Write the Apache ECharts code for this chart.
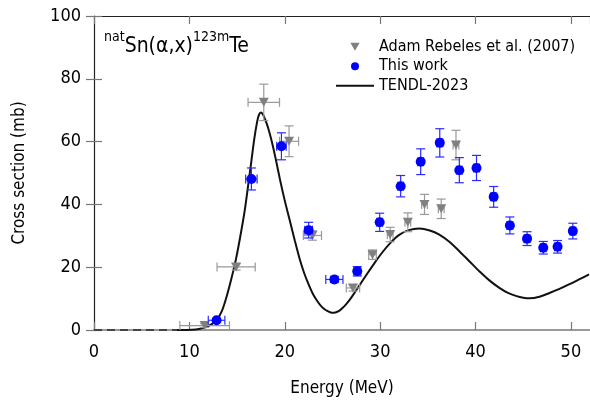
<!DOCTYPE html>
<html>
<head>
<meta charset="utf-8">
<script src="https://cdn.jsdelivr.net/npm/echarts@6/dist/echarts.min.js"></script>
<style>
html,body{margin:0;padding:0;background:#fff;}
#chart{width:590px;height:405px;}
</style>
</head>
<body>
<div id="chart"></div>
<script>
// ---- data ----
const xTicks = [0, 10, 20, 30, 40, 50];
const yTicks = [0, 20, 40, 60, 80, 100];

// Adam Rebeles et al. (2007)
const refE  = [11.6, 14.9, 17.8, 20.45, 22.9, 27.15, 29.2, 31.05, 32.9, 34.65, 36.4, 37.95];
const refY  = [1.4, 20.1, 72.5, 60.1, 30.1, 13.4, 24.0, 30.4, 34.3, 40.0, 38.6, 58.9];
const refDE = [2.6, 2.0, 1.65, 1.0, 0.95, 0.7, 0.4, 0.3, 0.3, 0.3, 0.3, 0.3];
const refDY = [0.6, 1.0, 5.8, 4.9, 1.5, 1.0, 1.5, 2.3, 3.0, 3.2, 3.1, 4.7];

// This work
const thisE  = [12.85, 16.5, 19.65, 22.5, 25.2, 27.6, 29.95, 32.15, 34.25, 36.25, 38.3, 40.1, 41.9, 43.6, 45.4, 47.1, 48.6, 50.2];
const thisY  = [3.1, 48.1, 58.5, 31.8, 16.1, 18.7, 34.3, 45.8, 53.6, 59.6, 50.9, 51.6, 42.4, 33.3, 29.1, 26.2, 26.5, 31.5];
const thisDE = [0.87, 0.6, 0.5, 0.4, 0.9, 0.35, 0.3, 0.3, 0.3, 0.3, 0.3, 0.3, 0.3, 0.3, 0.3, 0.3, 0.3, 0.3];
const thisDY = [0.6, 3.5, 4.3, 2.5, 1.0, 1.5, 2.9, 3.4, 4.1, 4.5, 4.0, 4.0, 3.3, 2.7, 2.2, 2.0, 2.0, 2.5];

// TENDL-2023
const tendlZeroE = [0, 8.7];
const tendlZeroY = [0, 0];
const tendlE = [8.7, 9.5, 10.3, 11.0, 11.7, 12.3, 12.85, 13.4, 13.9, 14.4, 14.9, 15.35, 15.8, 16.15, 16.5, 16.8, 17.1, 17.3, 17.5, 17.7, 17.95, 18.25, 18.6, 19.05, 19.5, 20.0, 20.5, 21.05, 21.6, 22.05, 22.5, 22.9, 23.3, 23.7, 24.1, 24.5, 24.9, 25.3, 25.7, 26.05, 26.4, 26.8, 27.15, 27.85, 28.55, 29.4, 30.3, 31.15, 32.0, 33.0, 34.1, 35.2, 36.2, 37.25, 38.3, 39.35, 40.4, 41.45, 42.5, 43.4, 44.3, 45.0, 45.65, 46.7, 47.75, 48.8, 49.8, 50.85, 51.9];
const tendlY = [0, 0.03, 0.1, 0.35, 0.9, 1.8, 3.1, 6.0, 10.6, 16.3, 22.8, 30.0, 38.0, 45.8, 53.8, 60.8, 66.3, 68.6, 69.3, 68.7, 67.0, 64.4, 60.5, 54.5, 47.9, 41.2, 35.2, 28.5, 22.2, 18.0, 14.5, 11.8, 9.7, 8.0, 6.8, 6.0, 5.5, 5.6, 6.1, 7.0, 8.1, 9.6, 11.1, 14.3, 17.5, 21.3, 25.0, 28.0, 30.3, 31.8, 32.3, 31.7, 30.4, 28.1, 25.1, 21.9, 18.7, 15.8, 13.4, 11.8, 10.8, 10.3, 10.1, 10.6, 11.8, 13.1, 14.5, 16.1, 17.7];

// ---- build ----
const FONT = '"DejaVu Sans Condensed", "DejaVu Sans", sans-serif';
const zip2 = (a, b) => a.map((v, i) => [v, b[i]]);
const zip4 = (a, b, c, d) => a.map((v, i) => [v, b[i], c[i], d[i]]);

function errRender(color) {
  return function (params, api) {
    const x = api.value(0), y = api.value(1), dx = api.value(2), dy = api.value(3);
    const c = api.coord([x, y]);
    const l = api.coord([x - dx, y]);
    const r = api.coord([x + dx, y]);
    const t = api.coord([x, y + dy]);
    const b = api.coord([x, y - dy]);
    const cap = 4.5;
    const st = { stroke: color, lineWidth: 1.2 };
    const kids = [
      { type: 'line', shape: { x1: l[0], y1: c[1], x2: r[0], y2: c[1] }, style: st },
      { type: 'line', shape: { x1: l[0], y1: c[1] - cap, x2: l[0], y2: c[1] + cap }, style: st },
      { type: 'line', shape: { x1: r[0], y1: c[1] - cap, x2: r[0], y2: c[1] + cap }, style: st },
      { type: 'line', shape: { x1: c[0], y1: t[1], x2: c[0], y2: b[1] }, style: st },
      { type: 'line', shape: { x1: c[0] - cap, y1: t[1], x2: c[0] + cap, y2: t[1] }, style: st },
      { type: 'line', shape: { x1: c[0] - cap, y1: b[1], x2: c[0] + cap, y2: b[1] }, style: st }
    ];
    return { type: 'group', children: kids };
  };
}

const chart = echarts.init(document.getElementById('chart'), null, { renderer: 'canvas' });
const axisTickStyle = { show: true, inside: true, length: 8, lineStyle: { color: '#777', width: 1.2 } };

const option = {
  animation: false,
  backgroundColor: '#fff',
  textStyle: { fontFamily: FONT },
  grid: { left: 94, top: 16, width: 497, height: 314, containLabel: false },
  xAxis: [
    {
      type: 'value', min: 0, max: 52, interval: 10, position: 'bottom',
      axisLine: { show: true, onZero: false, lineStyle: { color: '#999', width: 2 } },
      axisTick: axisTickStyle,
      splitLine: { show: false },
      axisLabel: { show: true, margin: 13, color: '#000', fontSize: 18, fontFamily: FONT, showMaxLabel: false,
        formatter: v => (xTicks.indexOf(v) >= 0 ? String(v) : '') },
      name: 'Energy (MeV)', nameLocation: 'middle', nameGap: 50,
      nameTextStyle: { color: '#000', fontSize: 17, fontFamily: FONT }
    },
    {
      type: 'value', min: 0, max: 52, interval: 10, position: 'top',
      axisLine: { show: true, onZero: false, lineStyle: { color: '#222', width: 1.2 } },
      axisTick: axisTickStyle, axisLabel: { show: false }, splitLine: { show: false }
    }
  ],
  yAxis: [
    {
      type: 'value', min: 0, max: 100, interval: 20, position: 'left',
      axisLine: { show: true, onZero: false, lineStyle: { color: '#222', width: 1.2 } },
      axisTick: axisTickStyle,
      splitLine: { show: false },
      axisLabel: { show: true, margin: 13, color: '#000', fontSize: 18, fontFamily: FONT,
        formatter: v => (yTicks.indexOf(v) >= 0 ? String(v) : '') },
      name: 'Cross section (mb)', nameLocation: 'middle', nameGap: 66, nameRotate: 90,
      nameTextStyle: { color: '#000', fontSize: 17, fontFamily: FONT }
    },
    {
      type: 'value', min: 0, max: 100, interval: 20, position: 'right',
      axisLine: { show: false },
      axisTick: axisTickStyle, axisLabel: { show: false }, splitLine: { show: false }
    }
  ],
  legend: {
    orient: 'vertical', left: 331, top: 32,
    itemWidth: 38, itemHeight: 8, itemGap: 0,
    textStyle: { color: '#000', fontSize: 16, fontFamily: FONT, lineHeight: 19.5 },
    data: [
      { name: 'Adam Rebeles et al. (2007)', icon: 'path://M0,0L10,0L5,8.66Z' },
      { name: 'This work', icon: 'circle' },
      { name: 'TENDL-2023', icon: 'path://M0,0L38,0L38,2L0,2Z' }
    ]
  },
  graphic: [
    {
      type: 'text', left: 104, top: 30,
      style: {
        text: '{s|nat}{b|Sn(α,x)}{s|123m}{b|Te}',
        rich: {
          s: { fontSize: 14, fontFamily: FONT, fill: '#000', verticalAlign: 'top', padding: [0, 0, 8, 0] },
          b: { fontSize: 21, fontFamily: FONT, fill: '#000', verticalAlign: 'bottom', padding: [6, 0, 0, 0] }
        }
      }
    }
  ],
  series: [
    {
      name: 'TENDL-2023-zero', type: 'line', data: zip2(tendlZeroE, tendlZeroY),
      showSymbol: false, symbol: 'none', lineStyle: { color: '#444', width: 2, type: [8, 5] }, z: 2, silent: true
    },
    {
      name: 'TENDL-2023', type: 'line', data: zip2(tendlE, tendlY), smooth: 0.3,
      showSymbol: false, symbol: 'none', lineStyle: { color: '#111', width: 2 }, itemStyle: { color: '#111' }, z: 3
    },
    {
      name: 'ref-err', type: 'custom', renderItem: errRender('#999'), data: zip4(refE, refY, refDE, refDY), z: 4, silent: true
    },
    {
      name: 'Adam Rebeles et al. (2007)', type: 'scatter', data: zip2(refE, refY),
      symbol: 'path://M0,0L10,0L5,8.66Z', symbolSize: [10, 9], itemStyle: { color: '#808080', opacity: 1 }, z: 5
    },
    {
      name: 'this-err', type: 'custom', renderItem: errRender('#2b2bff'), data: zip4(thisE, thisY, thisDE, thisDY), z: 6, silent: true
    },
    {
      name: 'This work', type: 'scatter', data: zip2(thisE, thisY),
      symbol: 'circle', symbolSize: 10, itemStyle: { color: '#0000ff', opacity: 1 }, z: 7
    }
  ]
};
chart.setOption(option);
</script>
</body>
</html>
